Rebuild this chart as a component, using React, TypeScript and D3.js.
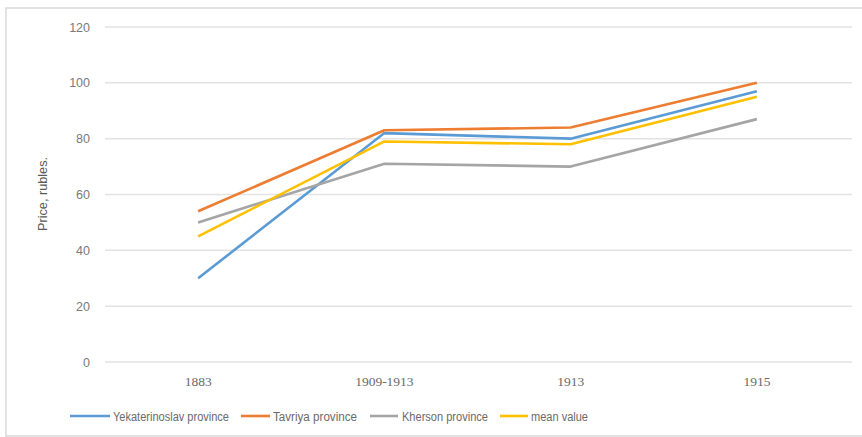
import React from "react";
import * as d3 from "d3";

const categories = ["1883", "1909-1913", "1913", "1915"];
const seriesNames = ["Yekaterinoslav province", "Tavriya province", "Kherson province", "mean value"];
const yekaterinoslav = [30, 82, 80, 97];
const tavriya = [54, 83, 84, 100];
const kherson = [50, 71, 70, 87];
const meanValue = [45, 79, 78, 95];
const yTicks = [0, 20, 40, 60, 80, 100, 120];
const colors = ["#5B9BD5", "#ED7D31", "#A5A5A5", "#FFC000"];

const W = 862, H = 437;
const left = 105, right = 850, top = 27, bottom = 362;

const legendLayout = [
  { x1: 70, x2: 110, tx: 113, tw: 116 },
  { x1: 241, x2: 270, tx: 273, tw: 84 },
  { x1: 370, x2: 398, tx: 402, tw: 86 },
  { x1: 500, x2: 528, tx: 531, tw: 57 },
];

export default function App() {
  const x = d3.scaleBand().domain(categories).range([left, right]);
  const y = d3.scaleLinear().domain([0, 120]).range([bottom, top]);
  const seriesData = [yekaterinoslav, tavriya, kherson, meanValue];
  const line = d3.line<number>()
    .x((_, i) => (x(categories[i]) as number) + x.bandwidth() / 2)
    .y((d) => y(d));
  return (
    <svg width={W} height={H} style={{ position: "absolute", left: 0, top: 0, background: "#fff" }}>
      <rect x={6} y={8} width={W + 10} height={428} fill="#fff" stroke="#d9d9d9" strokeWidth={1.5} />
      {yTicks.map((t) => (
        <g key={t}>
          <line x1={left} x2={852} y1={y(t)} y2={y(t)} stroke="#e3e3e3" strokeWidth={1.5} />
          <text x={90} y={y(t) + 4.5} textAnchor="end" fontFamily="Liberation Sans, Arial, sans-serif" fontSize={12.5} fill="#7a7a7a">{t}</text>
        </g>
      ))}
      {categories.map((c) => (
        <text key={c} x={(x(c) as number) + x.bandwidth() / 2} y={386} textAnchor="middle" fontFamily="Liberation Serif, Times New Roman, serif" fontSize={13.5} fill="#6a6a6a">{c}</text>
      ))}
      <text transform={`translate(47,${194}) rotate(-90)`} textAnchor="middle" fontFamily="Liberation Sans, Arial, sans-serif" fontSize={12.5} fill="#5a5a5a" textLength={74} lengthAdjust="spacingAndGlyphs">Price, rubles.</text>
      {seriesData.map((s, i) => (
        <path key={i} d={line(s) as string} fill="none" stroke={colors[i]} strokeWidth={2.6} strokeLinejoin="round" />
      ))}
      {seriesNames.map((n, i) => (
        <g key={n}>
          <line x1={legendLayout[i].x1} x2={legendLayout[i].x2} y1={416} y2={416} stroke={colors[i]} strokeWidth={2.6} />
          <text x={legendLayout[i].tx} y={420.5} fontFamily="Liberation Sans, Arial, sans-serif" fontSize={12.5} fill="#6a6a6a" textLength={legendLayout[i].tw} lengthAdjust="spacingAndGlyphs">{n}</text>
        </g>
      ))}
    </svg>
  );
}
